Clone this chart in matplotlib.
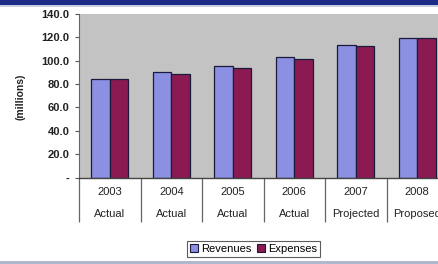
import matplotlib
matplotlib.use("Agg")
import matplotlib.pyplot as plt
import matplotlib.transforms as mtransforms
from matplotlib import font_manager
from matplotlib.patches import Rectangle, Patch
import numpy as np

years = ["2003", "2004", "2005", "2006", "2007", "2008"]
status = ["Actual", "Actual", "Actual", "Actual", "Projected", "Proposed"]
revenues = [84.3, 90.6, 95.2, 103.4, 113.7, 119.7]
expenses = [84.0, 88.9, 93.5, 101.2, 112.8, 119.7]
yticks = [0, 20, 40, 60, 80, 100, 120, 140]
ytick_labels = ["-", "20.0", "40.0", "60.0", "80.0", "100.0", "120.0", "140.0"]

# avoid the Narrow variant of Liberation Sans
font_manager.fontManager.ttflist = [f for f in font_manager.fontManager.ttflist
                                    if "Narrow" not in f.name and "Narrow" not in f.fname]
plt.rcParams['font.family'] = ['Liberation Sans', 'DejaVu Sans']

W, H = 439, 264
fig = plt.figure(figsize=(W / 100, H / 100), dpi=100)
fig.patch.set_facecolor("white")

# top dark band and bottom light line
fig.add_artist(Rectangle((0, 1 - 4.5 / H), 1, 4.5 / H, transform=fig.transFigure,
                         facecolor="#1b2b86", edgecolor="none"))
fig.add_artist(Rectangle((0, 1 - 6.5 / H), 1, 2 / H, transform=fig.transFigure,
                         facecolor="#c8cde0", edgecolor="none"))
fig.add_artist(Rectangle((0, 0), 1, 3 / H, transform=fig.transFigure,
                         facecolor="#aeb8cf", edgecolor="none"))

ax = fig.add_axes([79 / W, (H - 177.5) / H, 369 / W, 163.5 / H])
ax.set_facecolor("#c3c3c3")

x = np.arange(len(years))
bw = 0.3
ax.bar(x - bw / 2, revenues, bw, color="#8c90e2", edgecolor="#1a1a3a", linewidth=0.9, label="Revenues")
ax.bar(x + bw / 2, expenses, bw, color="#8c1a52", edgecolor="#1a1a3a", linewidth=0.9, label="Expenses")

ax.set_xlim(-0.5, len(years) - 0.5)
ax.set_ylim(0, 140)
ax.set_yticks(yticks)
ax.set_yticklabels(ytick_labels, fontsize=8, fontweight="bold", color="#222222")
ax.tick_params(axis="y", direction="out", length=3, width=0.8, color="#555555", pad=4)

ax.set_xticks(np.arange(len(years) + 1) - 0.5)
ax.set_xticklabels([])
ax.tick_params(axis="x", direction="out", length=32, width=0.9, color="#666666")

trans = mtransforms.blended_transform_factory(ax.transData, ax.transAxes)
for i, (yr, st) in enumerate(zip(years, status)):
    ax.text(i, -14.5 / 163.5, yr, transform=trans, ha="center", va="center",
            fontsize=8, color="#222222")
    ax.text(i, -36.5 / 163.5, st, transform=trans, ha="center", va="center",
            fontsize=8, color="#222222")

for s in ["top", "right"]:
    ax.spines[s].set_visible(False)
ax.spines["left"].set_color("#666666")
ax.spines["bottom"].set_color("#444444")
ax.spines["left"].set_linewidth(0.8)
ax.spines["bottom"].set_linewidth(1.0)

fig.text(21 / W, 1 - 97 / H, "(millions)", rotation=90, ha="center", va="center",
         fontsize=7.5, fontweight="bold", color="#222222")

handles = [Patch(facecolor="#8c90e2", edgecolor="#1a1a3a", linewidth=0.8, label="Revenues"),
           Patch(facecolor="#8c1a52", edgecolor="#1a1a3a", linewidth=0.8, label="Expenses")]
leg = fig.legend(handles=handles, loc="center", bbox_to_anchor=(253.5 / W, 1 - 249 / H),
                 ncol=2, fontsize=8, frameon=True, fancybox=False, handlelength=0.7,
                 handleheight=0.7, handletextpad=0.3, columnspacing=0.5, borderpad=0.3,
                 borderaxespad=0)
leg.get_frame().set_edgecolor("#333333")
leg.get_frame().set_linewidth(0.8)

fig.savefig("out.png", dpi=100)
